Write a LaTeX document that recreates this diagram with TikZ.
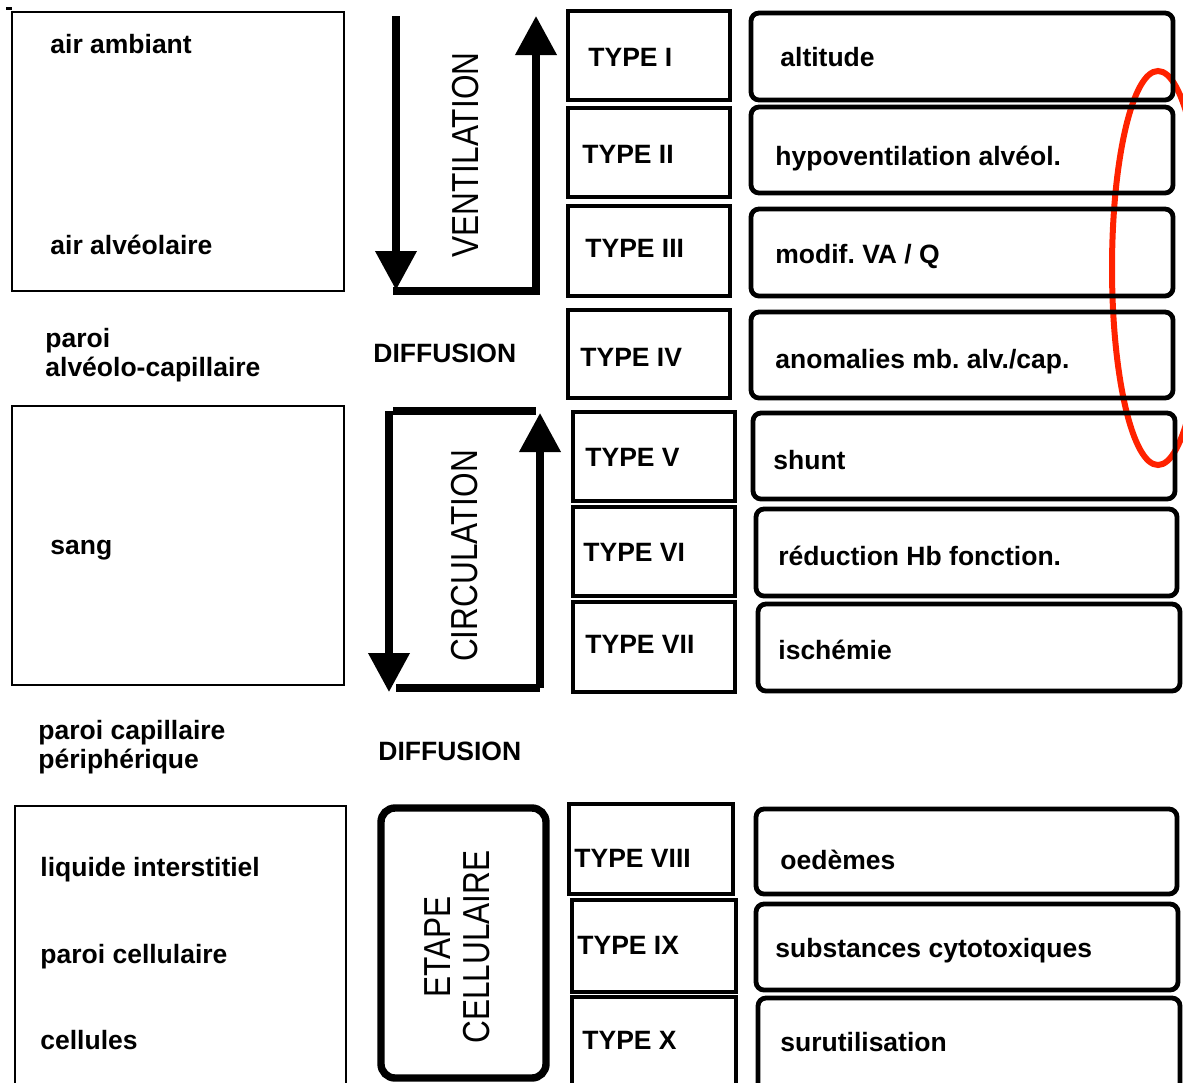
\documentclass[tikz,border=0pt]{standalone}
\usepackage{fontspec}
\setmainfont{Liberation Sans}
\usepackage{graphicx}
\usetikzlibrary{arrows.meta}
\definecolor{markred}{RGB}{255,34,0}
\newcommand{\narrowtxt}[1]{\scalebox{0.84}[1]{#1}}
\frenchspacing

\begin{document}
\begin{tikzpicture}[x=0.5pt, y=-0.5pt,
  txt/.style={font=\bfseries\fontsize{13.25}{15}\selectfont, anchor=base west, inner sep=0pt},
  vtxt/.style={font=\fontsize{18.8}{19.5}\selectfont, rotate=90, inner sep=0pt, align=center},
  thin box/.style={line width=1pt},
  type box/.style={line width=2.4pt},
  cause box/.style={line width=2.4pt, rounded corners=4pt},
  cell box/.style={line width=3.7pt, rounded corners=7pt},
  flow/.style={line width=3.6pt},
  flow tip/.style={-{Triangle[length=19.5pt, width=20pt]}},
  ring/.style={draw=markred, line width=3pt}]
  \useasboundingbox (0,0) rectangle (1183,1082);
  \clip (0,0) rectangle (1183,1082);

  \fill (6,7) rectangle (12,10);
  \draw[ring] (1158,268) ellipse [x radius=46, y radius=197];

  \draw[thin box] (12,12) rectangle (344,291);
  \draw[thin box] (12,406) rectangle (344,685);
  \draw[thin box] (15,806) rectangle (346,1100);
  \node[txt] (ambiant) at (50,53) {air ambiant};
  \node[txt] (alveol) at (50,254) {air alvéolaire};
  \node[txt] (paroiA) at (45,347) {paroi};
  \node[txt] (paroiB) at (45,376) {alvéolo-capillaire};
  \node[txt] (sang) at (50,554) {sang};
  \node[txt] (periA) at (38,739) {paroi capillaire};
  \node[txt] (periB) at (38,768) {périphérique};
  \node[txt] (liquide) at (40,876) {liquide interstitiel};
  \node[txt] (paroiC) at (40,963) {paroi cellulaire};
  \node[txt] (cellules) at (40,1049) {cellules};

  \coordinate (ventIn) at (396,16);
  \coordinate (ventDown) at (396,290);
  \coordinate (ventCorner) at (536,291);
  \coordinate (ventUp) at (536,16);
  \draw[flow, flow tip] (ventIn) -- (ventDown);
  \draw[flow] (393,291) -- (ventCorner) -- (536,287);
  \draw[flow, flow tip] (536,287) -- (ventUp);
  \node[vtxt] (ventil) at (466,155) {\narrowtxt{VENTILATION}};
  \node[txt] (diffA) at (373,362) {DIFFUSION};

  \coordinate (circIn) at (389,411);
  \coordinate (circDown) at (389,692);
  \coordinate (circBack) at (540,688);
  \coordinate (circUp) at (540,413);
  \draw[flow, flow tip] (circIn) -- (circDown);
  \draw[flow] (393,411) -- (536,411);
  \draw[flow] (396,688) -- (circBack);
  \draw[flow, flow tip] (circBack) -- (circUp);
  \node[vtxt] (circul) at (465,556) {\narrowtxt{CIRCULATION}};
  \node[txt] (diffB) at (378,760) {DIFFUSION};

  \draw[cell box] (381,808) rectangle (546,1078);
  \node[vtxt] (etape) at (457,947) {\narrowtxt{ETAPE}\\\narrowtxt{CELLULAIRE}};

  \draw[type box] (568,11) rectangle (730,100);
  \draw[type box] (568,108) rectangle (730,197);
  \draw[type box] (568,206) rectangle (730,296);
  \draw[type box] (568,310) rectangle (730,398);
  \draw[type box] (573,412) rectangle (735,501);
  \draw[type box] (573,507) rectangle (735,596);
  \draw[type box] (573,602) rectangle (735,692);
  \draw[type box] (569,804) rectangle (733,894);
  \draw[type box] (572,900) rectangle (736,992);
  \draw[type box] (572,997) rectangle (736,1100);
  \node[txt] (type1) at (588,66) {TYPE I};
  \node[txt] (type2) at (582,163) {TYPE II};
  \node[txt] (type3) at (585,257) {TYPE III};
  \node[txt] (type4) at (580,366) {TYPE IV};
  \node[txt] (type5) at (585,466) {TYPE V};
  \node[txt] (type6) at (583,561) {TYPE VI};
  \node[txt] (type7) at (585,653) {TYPE VII};
  \node[txt] (type8) at (574,867) {TYPE VIII};
  \node[txt] (type9) at (577,954) {TYPE IX};
  \node[txt] (type10) at (582,1049) {TYPE X};

  \draw[cause box] (751,13) rectangle (1173,100);
  \draw[cause box] (751,107) rectangle (1173,193);
  \draw[cause box] (751,209) rectangle (1173,296);
  \draw[cause box] (751,312) rectangle (1173,398);
  \draw[cause box] (753,413) rectangle (1175,499);
  \draw[cause box] (756,509) rectangle (1177,596);
  \draw[cause box] (758,604) rectangle (1180,691);
  \draw[cause box] (756,809) rectangle (1177,894);
  \draw[cause box] (756,904) rectangle (1178,990);
  \draw[cause box] (758,998) rectangle (1180,1100);
  \node[txt] (cause1) at (780,66) {altitude};
  \node[txt] (cause2) at (775,165) {hypoventilation alvéol.};
  \node[txt] (cause3) at (775,263) {modif. VA / Q};
  \node[txt] (cause4) at (775,368) {anomalies mb. alv./cap.};
  \node[txt] (cause5) at (773,469) {shunt};
  \node[txt] (cause6) at (778,565) {réduction Hb fonction.};
  \node[txt] (cause7) at (778,659) {ischémie};
  \node[txt] (cause8) at (780,869) {oedèmes};
  \node[txt] (cause9) at (775,957) {substances cytotoxiques};
  \node[txt] (cause10) at (780,1051) {surutilisation};
\end{tikzpicture}
\end{document}
